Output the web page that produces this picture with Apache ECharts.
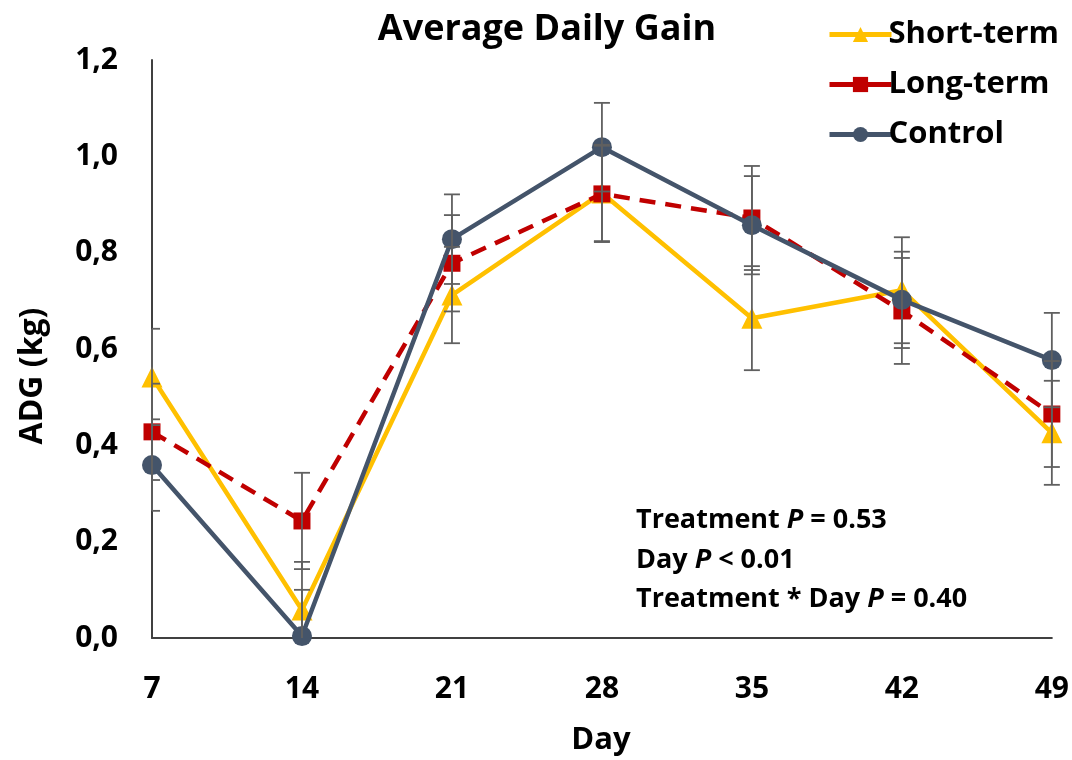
<!DOCTYPE html>
<html>
<head>
<meta charset="utf-8">
<script src="https://cdn.jsdelivr.net/npm/echarts@6/dist/echarts.min.js"></script>
<style>html,body{margin:0;padding:0;background:#fff}#c{width:1072px;height:760px}</style>
</head>
<body>
<div id="c"></div>
<script>
const days = ['7', '14', '21', '28', '35', '42', '49'];
const shortVals = [0.542, 0.058, 0.712, 0.924, 0.664, 0.722, 0.426];
const shortErr = [0.10, 0.10, 0.10, 0.10, 0.108, 0.11, 0.108];
const longVals = [0.428, 0.243, 0.778, 0.922, 0.872, 0.679, 0.465];
const longErr = [0.10, 0.10, 0.10, 0.10, 0.108, 0.11, 0.11];
const controlVals = [0.359, 0.004, 0.828, 1.019, 0.857, 0.702, 0.577];
const controlErr = [0.095, 0.096, 0.093, 0.092, 0.102, 0.10, 0.098];
const yTicks = [0, 0.2, 0.4, 0.6, 0.8, 1.0, 1.2];

const FONT = '"Open Sans"';
const chart = echarts.init(document.getElementById('c'));

function errData(vals, errs) {
  return vals.map((v, i) => [i, v - errs[i], v + errs[i]]);
}
function errSeries(name, vals, errs) {
  return {
    type: 'custom',
    name: name + ' err',
    z: 10,
    silent: true,
    data: errData(vals, errs),
    encode: { x: 0, y: [1, 2] },
    renderItem: function (params, api) {
      const i = api.value(0);
      const loV = api.value(1);
      const clipped = loV < 0;
      const lo = api.coord([i, clipped ? 0 : loV]);
      const hi = api.coord([i, api.value(2)]);
      const hw = 8;
      const x0 = i === 0 ? lo[0] : lo[0] - hw;
      const style = { stroke: '#606060', lineWidth: 1.8 };
      const children = [
        { type: 'line', shape: { x1: lo[0], y1: lo[1], x2: hi[0], y2: hi[1] }, style: style },
        { type: 'line', shape: { x1: x0, y1: hi[1], x2: hi[0] + hw, y2: hi[1] }, style: style }
      ];
      if (!clipped) {
        children.push({ type: 'line', shape: { x1: x0, y1: lo[1], x2: lo[0] + hw, y2: lo[1] }, style: style });
      }
      return { type: 'group', children: children };
    }
  };
}

const option = {
  animation: false,
  backgroundColor: '#ffffff',
  title: {
    text: 'Average Daily Gain',
    left: 542, top: 7, textAlign: 'center',
    textStyle: { fontFamily: FONT, fontWeight: 'bold', fontSize: 36, color: '#000' }
  },
  legend: {
    orient: 'vertical',
    left: 822, top: 14,
    itemWidth: 62, itemHeight: 19, itemGap: 19,
    lineStyle: { width: 5 },
    data: [
      { name: 'Short-term' },
      { name: 'Long-term', lineStyle: { type: 'solid' } },
      { name: 'Control' }
    ],
    textStyle: { fontFamily: FONT, fontWeight: 'bold', fontSize: 31, color: '#000', padding: [0, 0, 0, -8] }
  },
  grid: { left: 152, right: 20, top: 60, bottom: 122, containLabel: false },
  xAxis: {
    type: 'category',
    data: days,
    boundaryGap: false,
    axisLine: { lineStyle: { color: '#404040', width: 2 } },
    axisTick: { show: false },
    axisLabel: { fontFamily: FONT, fontWeight: 'bold', fontSize: 30, color: '#000', margin: 36 },
    splitLine: { show: false }
  },
  yAxis: {
    type: 'value',
    min: 0, max: 1.2, interval: 0.2,
    axisLine: { show: true, lineStyle: { color: '#404040', width: 2 } },
    axisTick: { show: false },
    splitLine: { show: false },
    axisLabel: {
      fontFamily: FONT, fontWeight: 'bold', fontSize: 30, color: '#000', margin: 34,
      formatter: function (v) {
        const t = yTicks.find(x => Math.abs(x - v) < 1e-6);
        return (t !== undefined ? t : v).toFixed(1).replace('.', ',');
      }
    }
  },
  graphic: [
    {
      type: 'text', rotation: Math.PI / 2,
      style: { text: 'ADG (kg)', fontFamily: FONT, fontWeight: 'bold', fontSize: 32, fill: '#000', align: 'center', verticalAlign: 'middle' },
      x: 33, y: 376
    },
    {
      type: 'text', x: 601, y: 740,
      style: { text: 'Day', fontFamily: FONT, fontWeight: 'bold', fontSize: 31, fill: '#000', align: 'center', verticalAlign: 'middle' }
    },
    {
      type: 'text', x: 636, y: 501,
      style: {
        text: '{n|Treatment }{i|P}{n| = 0.53}\n{n|Day }{i|P}{n| < 0.01}\n{n|Treatment * Day }{i|P}{n| = 0.40}',
        rich: {
          n: { fontFamily: FONT, fontWeight: 'bold', fontSize: 27, fill: '#000', lineHeight: 39.3 },
          i: { fontFamily: FONT, fontWeight: 'bold', fontStyle: 'italic', fontSize: 27, fill: '#000', lineHeight: 39.3 }
        }
      }
    }
  ],
  series: [
    {
      name: 'Short-term', type: 'line', data: shortVals, z: 5,
      symbol: 'triangle', symbolSize: 21,
      lineStyle: { color: '#FFC000', width: 4.5 },
      itemStyle: { color: '#FFC000' }
    },
    {
      name: 'Long-term', type: 'line', data: longVals, z: 6,
      symbol: 'rect', symbolSize: 17,
      lineStyle: { color: '#C00000', width: 4.5, type: [16, 10] },
      itemStyle: { color: '#C00000' }
    },
    {
      name: 'Control', type: 'line', data: controlVals, z: 7,
      symbol: 'circle', symbolSize: 20,
      lineStyle: { color: '#44546A', width: 4.5 },
      itemStyle: { color: '#44546A' }
    },
    errSeries('Short-term', shortVals, shortErr),
    errSeries('Long-term', longVals, longErr),
    errSeries('Control', controlVals, controlErr)
  ]
};
chart.setOption(option);
</script>
</body>
</html>
